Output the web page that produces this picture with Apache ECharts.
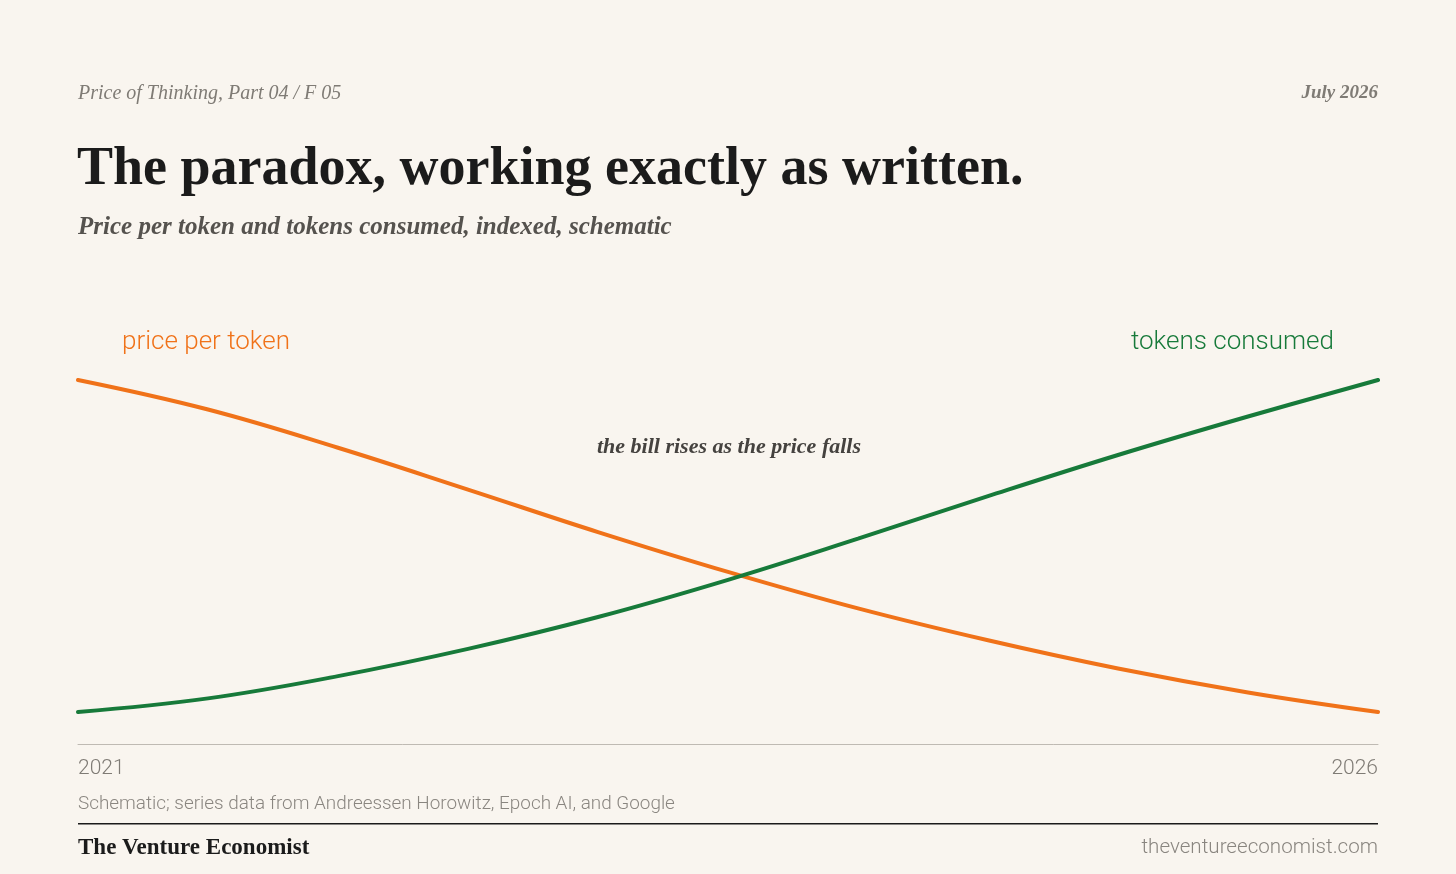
<!DOCTYPE html>
<html>
<head>
<meta charset="utf-8">
<script src="https://cdn.jsdelivr.net/npm/echarts@6/dist/echarts.min.js"></script>
<style>
  html, body { margin: 0; padding: 0; background: #f9f5ef; }
  #chart { width: 1456px; height: 874px; }
</style>
</head>
<body>
<div id="chart"></div>
<script>
// Indexed, schematic values (0 = low end, 100 = high end)
const years = [2021, 2021.5, 2022, 2022.5, 2023, 2023.5, 2024, 2024.5, 2025, 2025.5, 2026];
const pricePerToken = [100, 91.1, 79.6, 67.0, 54.2, 42.2, 31.2, 21.6, 13.1, 5.9, 0];
const tokensConsumed = [0, 4.1, 10.8, 19.0, 28.6, 39.8, 52.2, 65.0, 77.4, 89.0, 100];
const xTicks = [2021, 2026];

const ORANGE = "#f07219";
const GREEN = "#177a3a";
const SERIF = "'Liberation Serif', 'DejaVu Serif', serif";
const SANS = "'Roboto', 'Noto Sans', sans-serif";

const chart = echarts.init(document.getElementById("chart"));

const toPairs = (vals) => years.map((y, i) => [y, vals[i]]);

chart.setOption({
    backgroundColor: "#f9f5ef",
    animation: false,
    grid: { left: 78, right: 78, top: 380, bottom: 162 },
    xAxis: {
        type: "value",
        min: xTicks[0],
        max: xTicks[1],
        interval: xTicks[1] - xTicks[0],
        offset: 32,
        axisLine: { show: true, onZero: false, lineStyle: { color: "#bfbab3", width: 1 } },
        axisTick: { show: false },
        splitLine: { show: false },
        axisLabel: {
            color: "#7f7b75",
            fontFamily: SANS,
            fontSize: 21,
            fontWeight: 300,
            margin: 14,
            alignMinLabel: "left",
            alignMaxLabel: "right",
            formatter: (v) => String(v)
        }
    },
    yAxis: {
        type: "value",
        min: 0,
        max: 100,
        show: false
    },
    series: [
        {
            name: "price per token",
            type: "line",
            smooth: 0.4,
            showSymbol: false,
            data: toPairs(pricePerToken),
            lineStyle: { color: ORANGE, width: 4, cap: "round" }
        },
        {
            name: "tokens consumed",
            type: "line",
            smooth: 0.4,
            showSymbol: false,
            data: toPairs(tokensConsumed),
            lineStyle: { color: GREEN, width: 4, cap: "round" }
        }
    ],
    graphic: [
        // header
        { type: "text", left: 78, top: 84, style: { text: "Price of Thinking, Part 04 / F 05", fill: "#7f7b75", font: `italic 20px ${SERIF}` } },
        { type: "text", right: 78, top: 84, style: { text: "July 2026", fill: "#7f7b75", font: `italic bold 19px ${SERIF}` } },
        { type: "text", left: 77, top: 143, style: { text: "The paradox, working exactly as written.", fill: "#1b1b1b", font: `bold 54px ${SERIF}` } },
        { type: "text", left: 78, top: 215, style: { text: "Price per token and tokens consumed, indexed, schematic", fill: "#55524e", font: `italic bold 25px ${SERIF}` } },
        // series labels
        { type: "text", left: 122, top: 329, style: { text: "price per token", fill: ORANGE, font: `300 26px ${SANS}` } },
        { type: "text", right: 122, top: 329, style: { text: "tokens consumed", fill: GREEN, font: `300 26px ${SANS}` } },
        // annotation
        { type: "text", x: 729, y: 447, style: { text: "the bill rises as the price falls", fill: "#45423f", font: `italic bold 22px ${SERIF}`, align: "center", verticalAlign: "middle" } },
        // footer
        { type: "text", left: 78, top: 795, style: { text: "Schematic; series data from Andreessen Horowitz, Epoch AI, and Google", fill: "#8a8680", font: `300 18.9px ${SANS}` } },
        { type: "rect", shape: { x: 78, y: 823, width: 1300, height: 1.5 }, style: { fill: "#1b1b1b" } },
        { type: "text", left: 78, top: 837, style: { text: "The Venture Economist", fill: "#1b1b1b", font: `bold 23px ${SERIF}` } },
        { type: "text", right: 78, top: 837, style: { text: "theventureeconomist.com", fill: "#8a8680", font: `300 20.6px ${SANS}` } }
    ]
});

window.addEventListener("resize", () => chart.resize());
</script>
</body>
</html>
